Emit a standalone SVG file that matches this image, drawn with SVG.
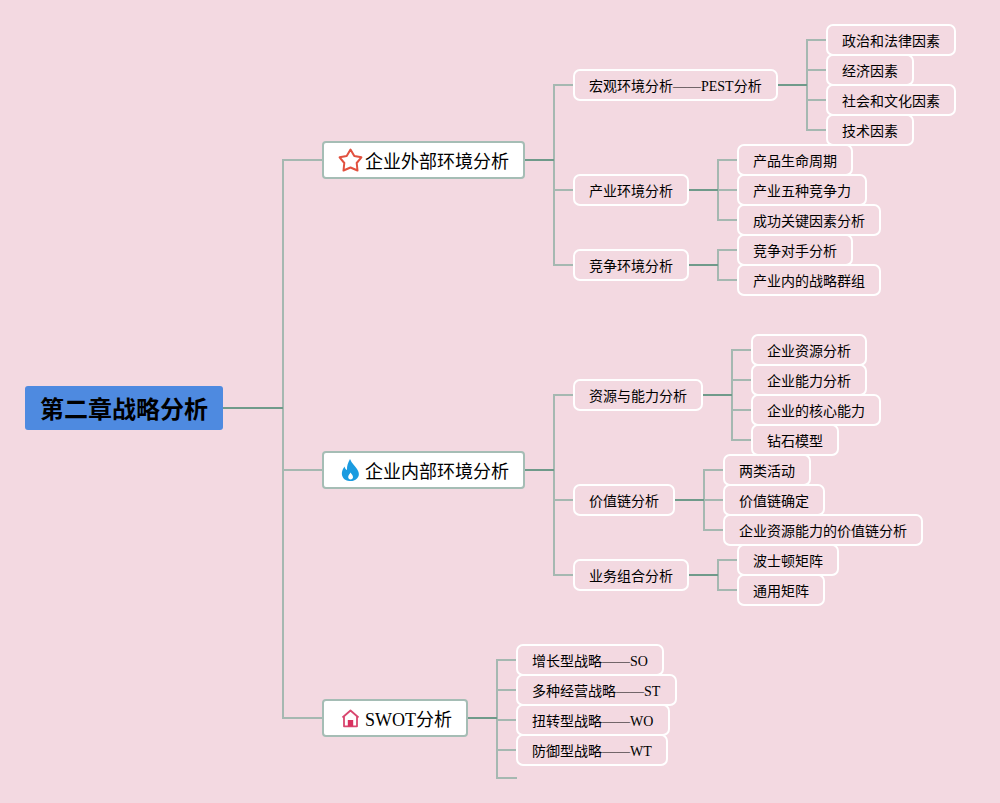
<svg xmlns="http://www.w3.org/2000/svg" width="1000" height="803" viewBox="0 0 1000 803">
<style>
text{font-family:"Liberation Serif","Noto Sans CJK SC",serif;fill:#000;dominant-baseline:central}
.leaf rect{fill:#f3d9e1;stroke:#fff;stroke-width:2}
.leaf text{font-size:14px}
.l1 rect{fill:#fff;stroke:#a5bdb5;stroke-width:2}
.l1 text{font-size:18px}
.br{fill:none;stroke:#a5b8b1;stroke-width:2}
.st{fill:none;stroke:#6f9a8a;stroke-width:2}
</style>
<rect width="1000" height="803" fill="#f3d9e1"/>
<g id="connectors">
<path class="br" d="M283 408V160H323M283 408V718H323M283 470H323"/>
<path class="st" d="M223 408H283"/>
<path class="br" d="M554 160V85H574M554 160V265H574M554 190H574"/><path class="st" d="M524 160H554"/>
<path class="br" d="M807 85V40H827M807 70H827M807 85V130H827M807 100H827"/><path class="st" d="M777 85H807"/>
<path class="br" d="M718 190V160H738M718 190V220H738M718 190H738"/><path class="st" d="M688 190H718"/>
<path class="br" d="M718 265V250H738M718 265V280H738"/><path class="st" d="M688 265H718"/>
<path class="br" d="M554 470V395H574M554 470V575H574M554 500H574"/><path class="st" d="M524 470H554"/>
<path class="br" d="M732 395V350H752M732 380H752M732 395V440H752M732 410H752"/><path class="st" d="M702 395H732"/>
<path class="br" d="M704 500V470H724M704 500V530H724M704 500H724"/><path class="st" d="M674 500H704"/>
<path class="br" d="M718 575V560H738M718 575V590H738"/><path class="st" d="M688 575H718"/>
<path class="br" d="M497 718V660H517M497 690H517M497 718V778H517M497 720H517M497 750H517"/><path class="st" d="M467 718H497"/>
</g>
<g id="root"><rect x="25" y="386" width="198" height="44" rx="3" fill="#4e8ae0"/><text x="124" y="410" text-anchor="middle" font-size="24" font-weight="700">第二章战略分析</text></g>
<g id="n-ext" class="l1"><rect x="323" y="142" width="201" height="36" rx="3"/>
<path d="M350.500 149.500L354.300 156L361.400 157.300L356.700 163L357.500 170.500L350.500 167.500L343.500 170.500L344.300 163L339.600 157.300L346.700 156Z" fill="none" stroke="#e2513f" stroke-width="2" stroke-linejoin="round"/>
<text x="365" y="162">企业外部环境分析</text></g>
<g id="n-int" class="l1"><rect x="323" y="452" width="201" height="36" rx="3"/>
<path d="M350 459C351.800 463.500 354.500 465 357 469C359.500 473 359.500 476 357 478.500C355 480.500 353 481 350.500 481C347 481 344 480 342.500 476.500C341 473 342.500 469.500 344.500 466.500C345 468.300 345.600 469.500 347 470C346.800 466 348 462.500 350 459ZM350.500 472.500C350 474 348.200 475 348.200 477C348.200 478.500 349.200 479.500 350.500 479.500C352 479.500 353 478.500 353 477C353 475 351.200 474 350.500 472.500Z" fill="#1a9be0" fill-rule="evenodd"/>
<text x="365" y="472">企业内部环境分析</text></g>
<g id="n-swot" class="l1"><rect x="323" y="700" width="144" height="36" rx="3"/>
<path d="M342.500 717.500L350.500 710.500L358.500 717.500M344 716.500V726.300H357V716.500" fill="none" stroke="#d9476f" stroke-width="1.800" stroke-linejoin="round"/><rect x="347.800" y="720" width="5.400" height="6.300" style="fill:#d9305f;stroke:none"/>
<text x="365" y="720">SWOT分析</text></g>
<g id="n1" class="leaf"><rect x="574" y="70" width="203" height="30" rx="6"/><text x="589" y="86">宏观环境分析——PEST分析</text></g>
<g id="n2" class="leaf"><rect x="827" y="25" width="128" height="30" rx="6"/><text x="842" y="41">政治和法律因素</text></g>
<g id="n3" class="leaf"><rect x="827" y="55" width="86" height="30" rx="6"/><text x="842" y="71">经济因素</text></g>
<g id="n4" class="leaf"><rect x="827" y="85" width="128" height="30" rx="6"/><text x="842" y="101">社会和文化因素</text></g>
<g id="n5" class="leaf"><rect x="827" y="115" width="86" height="30" rx="6"/><text x="842" y="131">技术因素</text></g>
<g id="n6" class="leaf"><rect x="574" y="175" width="114" height="30" rx="6"/><text x="589" y="191">产业环境分析</text></g>
<g id="n7" class="leaf"><rect x="738" y="145" width="114" height="30" rx="6"/><text x="753" y="161">产品生命周期</text></g>
<g id="n8" class="leaf"><rect x="738" y="175" width="128" height="30" rx="6"/><text x="753" y="191">产业五种竞争力</text></g>
<g id="n9" class="leaf"><rect x="738" y="205" width="142" height="30" rx="6"/><text x="753" y="221">成功关键因素分析</text></g>
<g id="n10" class="leaf"><rect x="574" y="250" width="114" height="30" rx="6"/><text x="589" y="266">竞争环境分析</text></g>
<g id="n11" class="leaf"><rect x="738" y="235" width="114" height="30" rx="6"/><text x="753" y="251">竞争对手分析</text></g>
<g id="n12" class="leaf"><rect x="738" y="265" width="142" height="30" rx="6"/><text x="753" y="281">产业内的战略群组</text></g>
<g id="n13" class="leaf"><rect x="574" y="380" width="128" height="30" rx="6"/><text x="589" y="396">资源与能力分析</text></g>
<g id="n14" class="leaf"><rect x="752" y="335" width="114" height="30" rx="6"/><text x="767" y="351">企业资源分析</text></g>
<g id="n15" class="leaf"><rect x="752" y="365" width="114" height="30" rx="6"/><text x="767" y="381">企业能力分析</text></g>
<g id="n16" class="leaf"><rect x="752" y="395" width="128" height="30" rx="6"/><text x="767" y="411">企业的核心能力</text></g>
<g id="n17" class="leaf"><rect x="752" y="425" width="86" height="30" rx="6"/><text x="767" y="441">钻石模型</text></g>
<g id="n18" class="leaf"><rect x="574" y="485" width="100" height="30" rx="6"/><text x="589" y="501">价值链分析</text></g>
<g id="n19" class="leaf"><rect x="724" y="455" width="86" height="30" rx="6"/><text x="739" y="471">两类活动</text></g>
<g id="n20" class="leaf"><rect x="724" y="485" width="100" height="30" rx="6"/><text x="739" y="501">价值链确定</text></g>
<g id="n21" class="leaf"><rect x="724" y="515" width="198" height="30" rx="6"/><text x="739" y="531">企业资源能力的价值链分析</text></g>
<g id="n22" class="leaf"><rect x="574" y="560" width="114" height="30" rx="6"/><text x="589" y="576">业务组合分析</text></g>
<g id="n23" class="leaf"><rect x="738" y="545" width="100" height="30" rx="6"/><text x="753" y="561">波士顿矩阵</text></g>
<g id="n24" class="leaf"><rect x="738" y="575" width="86" height="30" rx="6"/><text x="753" y="591">通用矩阵</text></g>
<g id="n25" class="leaf"><rect x="517" y="645" width="146" height="30" rx="6"/><text x="532" y="661">增长型战略——SO</text></g>
<g id="n26" class="leaf"><rect x="517" y="675" width="159" height="30" rx="6"/><text x="532" y="691">多种经营战略——ST</text></g>
<g id="n27" class="leaf"><rect x="517" y="705" width="152" height="30" rx="6"/><text x="532" y="721">扭转型战略——WO</text></g>
<g id="n28" class="leaf"><rect x="517" y="735" width="150" height="30" rx="6"/><text x="532" y="751">防御型战略——WT</text></g>
</svg>
